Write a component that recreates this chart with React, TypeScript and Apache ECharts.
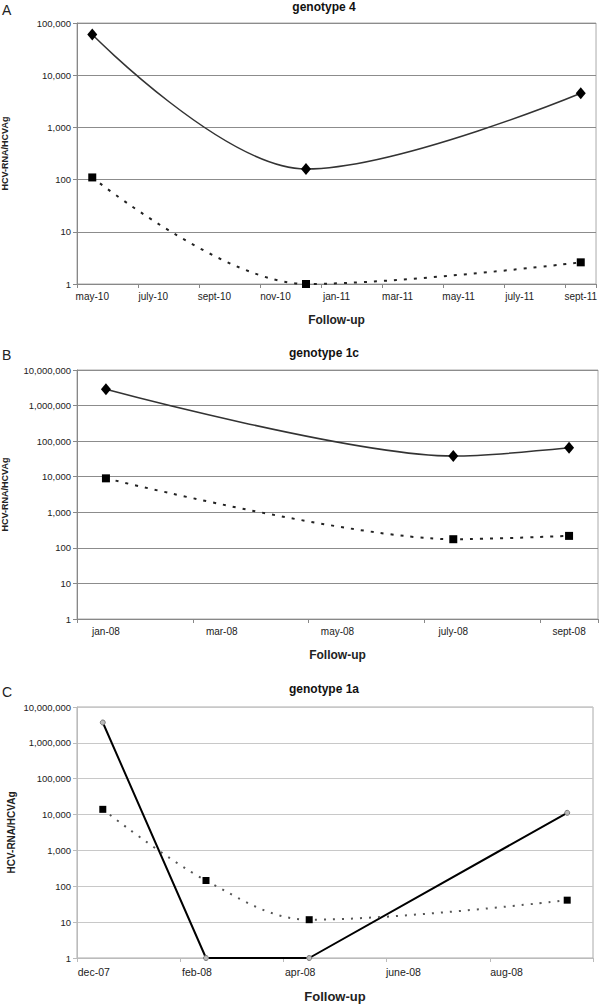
import React, { useEffect, useRef } from 'react';
import * as echarts from 'echarts';

// ---------- data ----------
const monthsA = ['may-10', 'june-10', 'july-10', 'aug-10', 'sept-10', 'oct-10', 'nov-10', 'dec-10', 'jan-11', 'feb-11', 'mar-11', 'apr-11', 'may-11', 'june-11', 'july-11', 'aug-11', 'sept-11'];
const sampleMonthsA = ['may-10', 'dec-10', 'sept-11'];
const rnaA = [60000, 160, 4500];
const agA = [110, 1, 2.6];

const monthsB = ['jan-08', 'feb-08', 'mar-08', 'apr-08', 'may-08', 'june-08', 'july-08', 'aug-08', 'sept-08'];
const sampleMonthsB = ['jan-08', 'july-08', 'sept-08'];
const rnaB = [2870000, 38000, 65000];
const agB = [9000, 175, 217];

const monthsC = ['dec-07', 'jan-08', 'feb-08', 'mar-08', 'apr-08', 'may-08', 'june-08', 'july-08', 'aug-08', 'sept-08'];
const sampleMonthsC = ['dec-07', 'feb-08', 'apr-08', 'sept-08'];
const rnaC = [3700000, 1, 1, 11200];
const agC = [14000, 145, 11.7, 41];

const titles = ['genotype 4', 'genotype 1c', 'genotype 1a'];
const panelLetters = ['A', 'B', 'C'];
const xName = 'Follow-up';
const yName = 'HCV-RNA/HCVAg';

const FONT = 'Liberation Sans, Arial, sans-serif';

const fmt = (v: number) => String(Math.round(v)).replace(/\B(?=(\d{3})+(?!\d))/g, ',');
const pairs = (m: string[], v: number[]) => m.map((mm, i) => [mm, v[i]]);

export default function App() {
  const ref = useRef<HTMLDivElement>(null);
  useEffect(() => {
    const chart = echarts.init(ref.current!, null, { renderer: 'svg' });

    const grids = [
      { left: 77, top: 23, width: 521, height: 261 },
      { left: 77, top: 370, width: 521, height: 249 },
      { left: 77, top: 707, width: 516, height: 251 },
    ];
    const months = [monthsA, monthsB, monthsC];
    const maxes = [100000, 10000000, 10000000];
    const light = [false, false, true];
    const smooths = [0.35, 0.28, 0.35];

    const xAxis = grids.map((g, i) => ({
      type: 'category',
      gridIndex: i,
      data: months[i],
      boundaryGap: true,
      axisLine: { show: true, lineStyle: { color: light[i] ? '#bbb' : '#888', width: 1 } },
      axisTick: { show: true, interval: 1, length: 4, lineStyle: { color: light[i] ? '#bbb' : '#888' } },
      axisLabel: {
        interval: 1,
        color: '#222',
        fontSize: light[i] ? 10.5 : 10,
        fontFamily: FONT,
        margin: light[i] ? 8 : 7,
        padding: light[i] ? [0, 18, 0, 0] : 0,
      },
      splitLine: { show: false },
      name: xName,
      nameLocation: 'middle',
      nameGap: light[i] ? 32 : 30,
      nameTextStyle: { fontWeight: 'bold', fontSize: light[i] ? 13 : 12, color: '#222', fontFamily: FONT },
    }));

    const yAxis = grids.map((g, i) => ({
      type: 'log',
      logBase: 10,
      gridIndex: i,
      min: 1,
      max: maxes[i],
      axisLine: { show: true, lineStyle: { color: light[i] ? '#bbb' : '#888', width: 1 } },
      axisTick: { show: true, length: 4, lineStyle: { color: light[i] ? '#bbb' : '#888' } },
      axisLabel: { formatter: fmt, color: '#222', fontSize: 9.5, fontFamily: FONT, margin: 6 },
      splitLine: { show: true, lineStyle: { color: light[i] ? '#c8c8c8' : '#8c8c8c', width: 1 } },
    }));

    const solidAB = (data: any[], idx: number) => ({
      type: 'line', xAxisIndex: idx, yAxisIndex: idx, data, smooth: smooths[idx], clip: false,
      symbol: 'diamond', symbolSize: [10, 12],
      itemStyle: { color: '#000' },
      lineStyle: { color: '#333', width: 1.5 },
      z: 3,
    });
    const dashAB = (data: any[], idx: number) => ({
      type: 'line', xAxisIndex: idx, yAxisIndex: idx, data, smooth: smooths[idx], clip: false,
      symbol: 'rect', symbolSize: 8,
      itemStyle: { color: '#000' },
      lineStyle: { color: '#222', width: 2, type: [3, 7] },
      z: 3,
    });

    const series = [
      solidAB(pairs(sampleMonthsA, rnaA), 0),
      dashAB(pairs(sampleMonthsA, agA), 0),
      solidAB(pairs(sampleMonthsB, rnaB), 1),
      dashAB(pairs(sampleMonthsB, agB), 1),
      {
        type: 'line', xAxisIndex: 2, yAxisIndex: 2, data: pairs(sampleMonthsC, rnaC), smooth: false, clip: false,
        symbol: 'circle', symbolSize: 5,
        itemStyle: { color: '#bbb', borderColor: '#777', borderWidth: 1 },
        lineStyle: { color: '#000', width: 2 },
        z: 3,
      },
      {
        type: 'line', xAxisIndex: 2, yAxisIndex: 2, data: pairs(sampleMonthsC, agC), smooth: smooths[2], clip: false,
        symbol: 'rect', symbolSize: 7,
        itemStyle: { color: '#000' },
        lineStyle: { color: '#555', width: 2, type: [2, 7] },
        z: 3,
      },
    ];

    const titleY = [7, 353, 689];
    const letterY = [10, 355, 692];
    const graphic: any[] = [];
    grids.forEach((g, i) => {
      graphic.push({
        type: 'text', x: 324, y: titleY[i],
        style: { text: titles[i], font: `bold 12px ${FONT}`, fill: '#111', textAlign: 'center', textVerticalAlign: 'middle', align: 'center', verticalAlign: 'middle' },
      });
      graphic.push({
        type: 'text', x: 2, y: letterY[i],
        style: { text: panelLetters[i], font: `14px ${FONT}`, fill: '#222', textAlign: 'left', textVerticalAlign: 'middle', align: 'left', verticalAlign: 'middle' },
      });
      graphic.push({
        type: 'text', x: light[i] ? 11.5 : 5, y: g.top + g.height / 2, rotation: Math.PI / 2,
        style: { text: yName, font: `bold ${light[i] ? 10 : 9}px ${FONT}`, fill: '#222', textAlign: 'center', textVerticalAlign: 'middle', align: 'center', verticalAlign: 'middle' },
      });
    });

    chart.setOption({
      animation: false,
      backgroundColor: '#fff',
      grid: grids.map((g) => ({ ...g, show: true, borderColor: '#aaa', borderWidth: 1, backgroundColor: 'transparent' })),
      xAxis,
      yAxis,
      series,
      graphic,
    });
    return () => chart.dispose();
  }, []);
  return <div ref={ref} style={{ position: 'absolute', left: 0, top: 0, width: 600, height: 1006, background: '#fff' }} />;
}
